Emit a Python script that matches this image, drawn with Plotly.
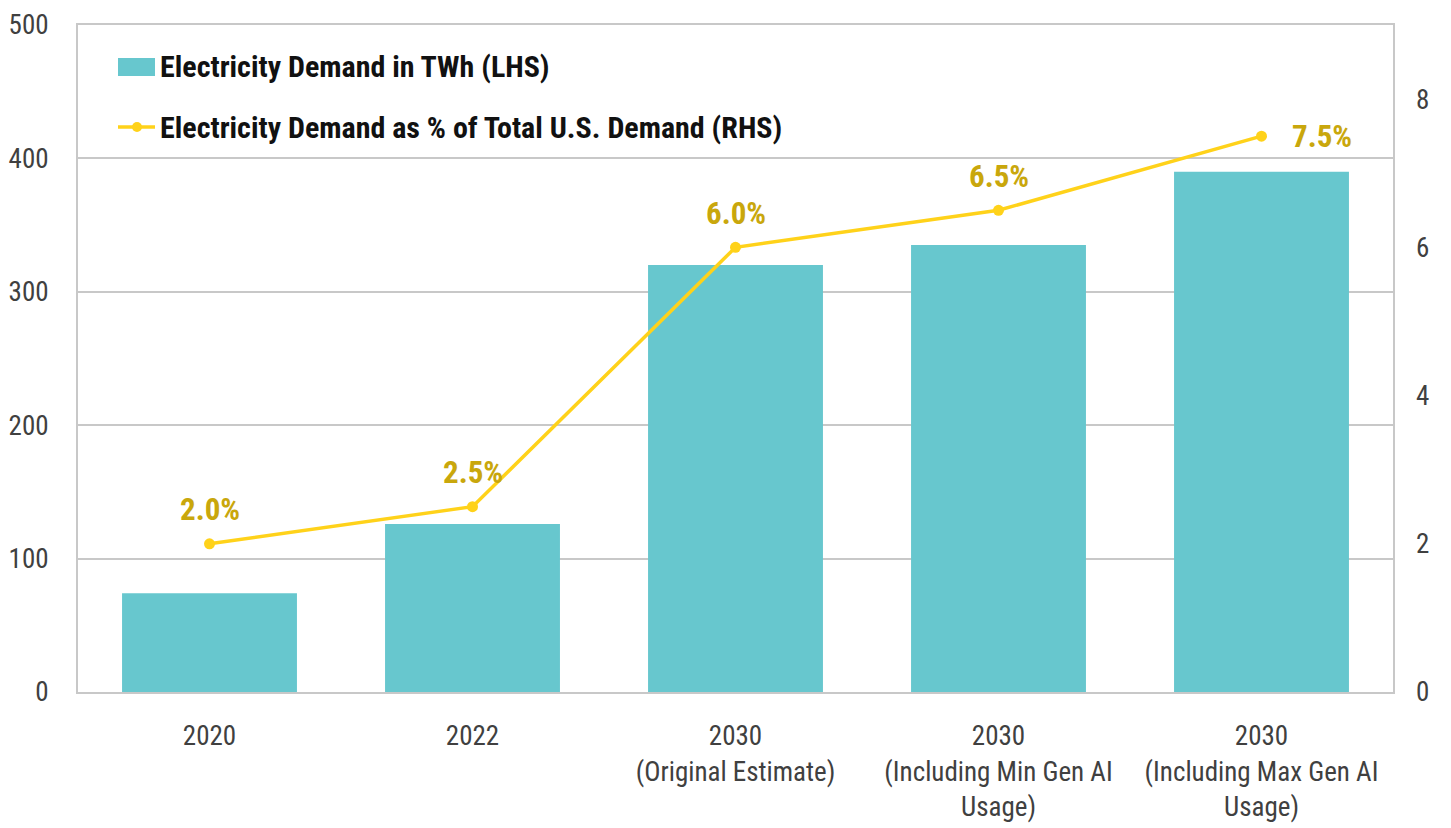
import plotly.graph_objects as go

categories = ["2020", "2022", "2030<br>(Original Estimate)",
              "2030<br>(Including Min Gen AI<br>Usage)",
              "2030<br>(Including Max Gen AI<br>Usage)"]
demand_twh = [74, 126, 320, 335, 390]
demand_pct = [2.0, 2.5, 6.0, 6.5, 7.5]
pct_labels = ["2.0%", "2.5%", "6.0%", "6.5%", "7.5%"]
left_ticks = [0, 100, 200, 300, 400, 500]
right_ticks = [0, 2, 4, 6, 8]
series_names = ["Electricity Demand in TWh (LHS)",
                "Electricity Demand as % of Total U.S. Demand (RHS)"]

FONT = "Liberation Sans Narrow, Arial Narrow, Roboto Condensed, sans-serif"
TEAL = "#67C7CE"
GOLD = "#FFD21A"
LABEL_GOLD = "#C9A70C"
GRID = "#C8C8C8"
TICK = "#404040"

# plot area in page pixels (page body has an 8px margin)
PL, PR, PT, PB = 78, 1393, 25, 692
W, H = 1443, 820
ml, mt = PL - 8, PT - 8
mr, mb = 8 + W - PR, 8 + H - PB
pw, ph = PR - PL, PB - PT


def px(x):
    return (x - PL) / pw


def py(y):
    return (PB - y) / ph


xpos = list(range(len(categories)))

fig = go.Figure()
fig.add_trace(go.Bar(
    x=xpos, y=demand_twh, name=series_names[0],
    marker=dict(color=TEAL, line=dict(width=0)), yaxis="y",
))
fig.add_trace(go.Scatter(
    x=xpos, y=demand_pct, name=series_names[1],
    mode="lines+markers", line=dict(color=GOLD, width=3.5),
    marker=dict(color=GOLD, size=11), yaxis="y2",
))

for i, (v, t) in enumerate(zip(demand_pct, pct_labels)):
    last = i == len(categories) - 1
    fig.add_annotation(
        x=xpos[i], y=v, yref="y2", xref="x", text=f"<b>{t}</b>", showarrow=False,
        xshift=60 if last else 0, yshift=0 if last else 34,
        font=dict(family=FONT, size=31, color=LABEL_GOLD),
    )

# manual legend (wide swatches like the reference)
fig.add_shape(type="rect", xref="paper", yref="paper",
              x0=px(118), x1=px(155), y0=py(76), y1=py(58),
              fillcolor=TEAL, line=dict(width=0))
fig.add_shape(type="line", xref="paper", yref="paper",
              x0=px(118), x1=px(155), y0=py(127), y1=py(127),
              line=dict(color=GOLD, width=3.5))
fig.add_shape(type="circle", xref="paper", yref="paper",
              x0=px(132), x1=px(142), y0=py(132), y1=py(122),
              fillcolor=GOLD, line=dict(width=0))
for name, yy in zip(series_names, [67, 127]):
    fig.add_annotation(
        x=px(158), y=py(yy), xref="paper", yref="paper", xanchor="left",
        yanchor="middle", text=f"<b>{name}</b>", showarrow=False,
        font=dict(family=FONT, size=30, color="#111111"),
    )

fig.update_layout(
    width=W, height=H,
    margin=dict(l=ml, r=mr, t=mt, b=mb, autoexpand=False),
    paper_bgcolor="white", plot_bgcolor="white",
    font=dict(family=FONT, size=27, color=TICK),
    bargap=0.335,
    showlegend=False,
    xaxis=dict(
        range=[-0.5, len(categories) - 0.5],
        tickvals=xpos, ticktext=categories,
        showline=True, linecolor=GRID, linewidth=2, mirror=True,
        ticks="", tickfont=dict(family=FONT, size=27, color=TICK),
        showgrid=False, zeroline=False, ticklabelstandoff=19,
    ),
    yaxis=dict(
        range=[0, 500], tickvals=left_ticks, showgrid=True, gridcolor=GRID,
        gridwidth=2, showline=True, linecolor=GRID, linewidth=2, mirror=True,
        ticks="", tickfont=dict(family=FONT, size=27, color=TICK),
        zeroline=False, ticklabelstandoff=22,
    ),
    yaxis2=dict(
        range=[0, 9], tickvals=right_ticks, overlaying="y", side="right",
        showgrid=False, zeroline=False, showline=False, ticks="",
        tickfont=dict(family=FONT, size=27, color=TICK),
        ticklabelstandoff=22,
    ),
)

fig.write_html("out.html")
